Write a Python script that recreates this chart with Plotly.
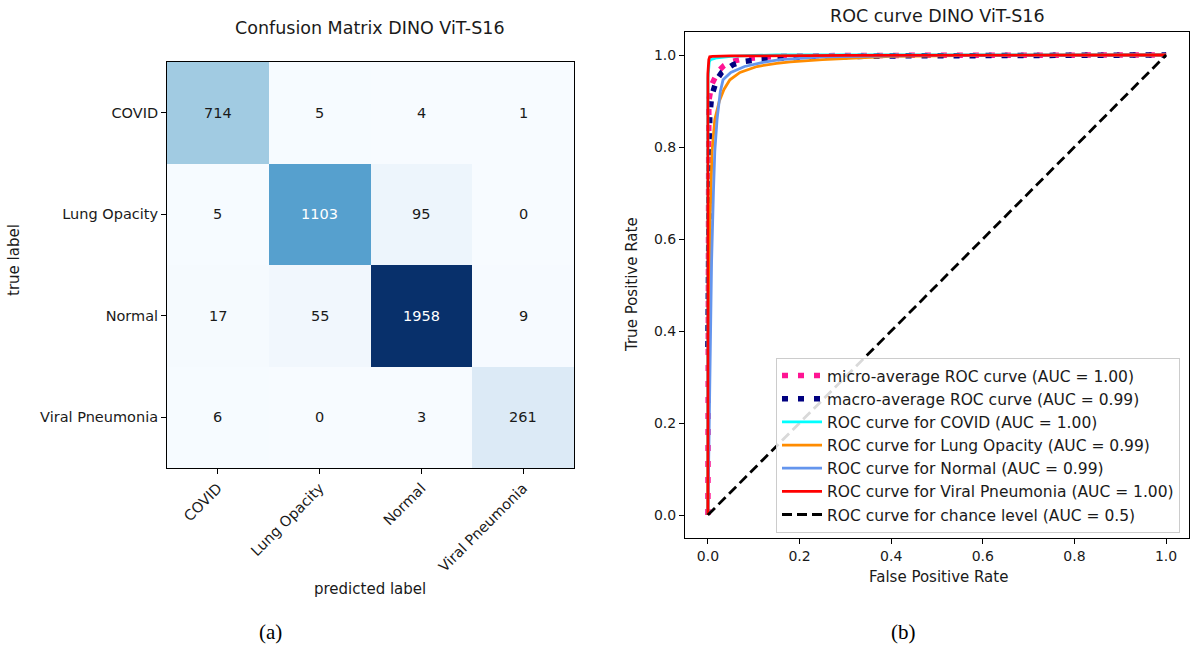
import plotly.graph_objects as go

# ---------------- data ----------------
classes = ["COVID", "Lung Opacity", "Normal", "Viral Pneumonia"]
cm = [
    [714, 5, 4, 1],
    [5, 1103, 95, 0],
    [17, 55, 1958, 9],
    [6, 0, 3, 261],
]

micro_fpr = [0.0, 0.0, 0.002, 0.008, 0.015, 0.022, 0.035, 0.048, 0.08, 0.15, 0.3, 0.6, 1.0]
micro_tpr = [0.0, 0.85, 0.90, 0.935, 0.952, 0.964, 0.977, 0.985, 0.992, 0.997, 0.999, 1.0, 1.0]

macro_fpr = [0.0, 0.002, 0.004, 0.008, 0.013, 0.019, 0.03, 0.041, 0.055, 0.073, 0.11, 0.2, 0.4, 0.7, 1.0]
macro_tpr = [0.365, 0.70, 0.866, 0.91, 0.93, 0.946, 0.962, 0.971, 0.979, 0.985, 0.99, 0.995, 0.998, 0.999, 1.0]

covid_fpr = [0.0, 0.0, 0.003, 0.006, 0.02, 0.05, 0.1, 0.15, 1.0]
covid_tpr = [0.0, 0.95, 0.985, 0.99, 0.994, 0.997, 0.999, 1.0, 1.0]

lung_fpr = [0.0, 0.002, 0.005, 0.009, 0.015, 0.025, 0.035, 0.048, 0.07, 0.107, 0.15, 0.18, 0.25, 0.4, 0.6, 1.0]
lung_tpr = [0.0, 0.40, 0.65, 0.79, 0.86, 0.90, 0.925, 0.946, 0.962, 0.975, 0.982, 0.985, 0.99, 0.997, 0.999, 1.0]

normal_fpr = [0.0, 0.004, 0.008, 0.012, 0.015, 0.02, 0.027, 0.033, 0.05, 0.08, 0.12, 0.157, 0.25, 0.5, 1.0]
normal_tpr = [0.0, 0.30, 0.55, 0.70, 0.79, 0.86, 0.92, 0.946, 0.962, 0.975, 0.984, 0.99, 0.996, 0.999, 1.0]

viral_fpr = [0.0, 0.0, 0.002, 0.004, 0.01, 0.05, 0.3, 1.0]
viral_tpr = [0.0, 0.96, 0.99, 0.996, 0.997, 0.998, 0.999, 1.0]

chance_fpr = [0.0, 1.0]
chance_tpr = [0.0, 1.0]

roc_names = [
    "micro-average ROC curve (AUC = 1.00)",
    "macro-average ROC curve (AUC = 0.99)",
    "ROC curve for COVID (AUC = 1.00)",
    "ROC curve for Lung Opacity (AUC = 0.99)",
    "ROC curve for Normal (AUC = 0.99)",
    "ROC curve for Viral Pneumonia (AUC = 1.00)",
    "ROC curve for chance level (AUC = 0.5)",
]
tick_vals = [0.0, 0.2, 0.4, 0.6, 0.8, 1.0]

# ---------------- styling ----------------
FONT = "DejaVu Sans"
TXT = "#1a1a1a"
W, H = 1190, 646
blues = [
    [0.0, "#f7fbff"], [0.125, "#deebf7"], [0.25, "#c6dbef"], [0.375, "#9ecae1"],
    [0.5, "#6baed6"], [0.625, "#4292c6"], [0.75, "#2171b5"], [0.875, "#08519c"],
    [1.0, "#08306b"],
]

def px(x):
    return x / W

def py(y):
    return 1 - y / H

fig = go.Figure()

zmin = min(min(r) for r in cm)
zmax = max(max(r) for r in cm)
fig.add_trace(go.Heatmap(
    z=cm, x=list(range(len(classes))), y=list(range(len(classes))),
    colorscale=blues, showscale=False, xaxis="x", yaxis="y",
    zmin=zmin, zmax=zmax, hoverinfo="skip", showlegend=False,
))

annotations = []
for i, row in enumerate(cm):
    for j, v in enumerate(row):
        annotations.append(dict(
            x=j, y=i, xref="x", yref="y", text=str(v), showarrow=False,
            font=dict(family=FONT, size=14.5, color="white" if v > zmax / 2 else TXT),
        ))

specs = [
    (micro_fpr, micro_tpr, "deeppink", 5.5, "6px,10px"),
    (macro_fpr, macro_tpr, "navy", 5.5, "6px,10px"),
    (covid_fpr, covid_tpr, "aqua", 2.8, "solid"),
    (lung_fpr, lung_tpr, "darkorange", 2.8, "solid"),
    (normal_fpr, normal_tpr, "cornflowerblue", 2.8, "solid"),
    (viral_fpr, viral_tpr, "red", 2.8, "solid"),
    (chance_fpr, chance_tpr, "black", 2.8, "10px,5px"),
]
for (fx, ty, col, w, dash), name in zip(specs, roc_names):
    fig.add_trace(go.Scatter(
        x=fx, y=ty, mode="lines", name=name, xaxis="x2", yaxis="y2",
        line=dict(color=col, width=w, dash=dash), hoverinfo="skip",
    ))

def axis_common(size):
    return dict(
        showline=True, mirror=True, linecolor="black", linewidth=1,
        ticks="outside", ticklen=5, tickcolor="black", showgrid=False,
        zeroline=False, automargin=False,
        tickfont=dict(family=FONT, size=size, color=TXT),
    )

fig.update_layout(
    width=W, height=H,
    margin=dict(l=0, r=0, t=0, b=0),
    paper_bgcolor="white", plot_bgcolor="white",
    xaxis=dict(
        domain=[px(167), px(574)], anchor="y", range=[-0.5, 3.5],
        tickvals=list(range(len(classes))), ticktext=classes, tickangle=-45,
        **axis_common(14.5),
    ),
    yaxis=dict(
        domain=[py(468), py(62)], anchor="x", range=[3.5, -0.5],
        tickvals=list(range(len(classes))), ticktext=classes,
        **axis_common(14.5),
    ),
    xaxis2=dict(
        domain=[px(685), px(1189)], anchor="y2", range=[-0.05, 1.05],
        tickvals=tick_vals, tickformat=".1f", **axis_common(14),
    ),
    yaxis2=dict(
        domain=[py(538), py(32)], anchor="x2", range=[-0.05, 1.05],
        tickvals=tick_vals, tickformat=".1f", **axis_common(14),
    ),
    showlegend=True,
    legend=dict(
        x=px(1180), y=py(533), xanchor="right", yanchor="bottom",
        bgcolor="rgba(255,255,255,0.85)", bordercolor="#cccccc", borderwidth=1,
        font=dict(family=FONT, size=15.5, color=TXT),
        tracegroupgap=0, itemwidth=40,
    ),
)

text_ann = [
    ("Confusion Matrix DINO ViT-S16", 370, 28, 17.5, 0, FONT),
    ("ROC curve DINO ViT-S16", 937, 16, 17.5, 0, FONT),
    ("true label", 14, 260, 15, -90, FONT),
    ("predicted label", 370, 589, 15, 0, FONT),
    ("True Positive Rate", 632, 285, 15, -90, FONT),
    ("False Positive Rate", 938, 577, 15, 0, FONT),
    ("(a)", 270, 632, 21, 0, "Liberation Serif"),
    ("(b)", 903, 632, 21, 0, "Liberation Serif"),
]
for t, x, y, s, ang, fam in text_ann:
    annotations.append(dict(
        text=t, x=px(x), y=py(y), xref="paper", yref="paper",
        xanchor="center", yanchor="middle", showarrow=False, textangle=ang,
        font=dict(family=fam, size=s, color=TXT if fam == FONT else "black"),
    ))

fig.update_layout(annotations=annotations)
fig.write_html(
    "out.html",
    config={"displayModeBar": False},
    post_script="document.body.style.margin='0px';",
)
